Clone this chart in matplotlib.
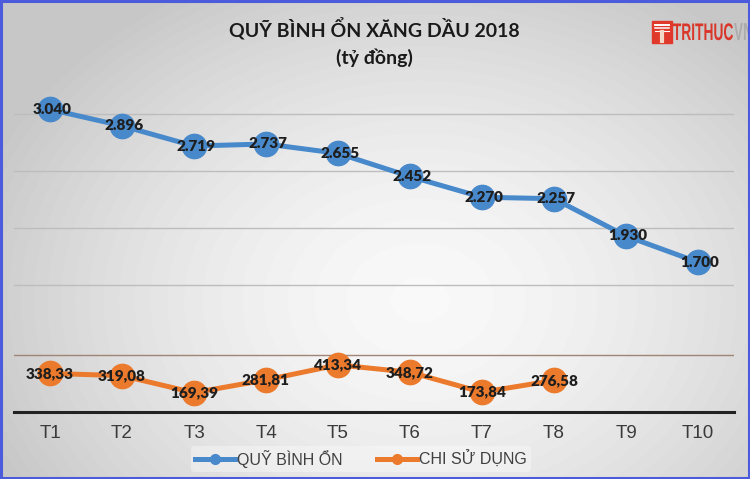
import numpy as np
import matplotlib
matplotlib.use("Agg")
import matplotlib.pyplot as plt
from matplotlib.lines import Line2D
from matplotlib.patches import Rectangle, PathPatch
from matplotlib.textpath import TextPath
from matplotlib.font_manager import FontProperties
from matplotlib.transforms import Affine2D

months = ["T1", "T2", "T3", "T4", "T5", "T6", "T7", "T8", "T9", "T10"]
quy_binh_on = [3040, 2896, 2719, 2737, 2655, 2452, 2270, 2257, 1930, 1700]
chi_su_dung = [338.33, 319.08, 169.39, 281.81, 413.34, 348.72, 173.84, 276.58]

BLUE = "#4889cb"
ORANGE = "#ec7a2c"
W, H = 750, 479

fig = plt.figure(figsize=(W / 100, H / 100), dpi=100)

# background gradient (light centre, grey edges)
bg = fig.add_axes([0, 0, 1, 1], zorder=-10)
yy, xx = np.mgrid[0:H, 0:W]
r = np.sqrt(((xx - 420) / 430.0) ** 2 + ((yy - 300) / 330.0) ** 2)
shade = np.clip(0.975 - 0.17 * r ** 1.6, 0.78, 0.975)
bg.imshow(shade, cmap="gray", vmin=0, vmax=1, aspect="auto", extent=[0, 1, 0, 1])
bg.axis("off")


def px_rect(x0, y_top, x1, y_bot):
    return [x0 / W, 1 - y_bot / H, (x1 - x0) / W, (y_bot - y_top) / H]


ax_top = fig.add_axes(px_rect(14, 80, 734, 310))
ax_bot = fig.add_axes(px_rect(14, 310, 734, 412))
x = np.arange(len(months))

for ax in (ax_top, ax_bot):
    ax.set_facecolor("none")
    ax.set_xlim(-0.5, len(months) - 0.5)
    for s in ax.spines.values():
        s.set_visible(False)
    ax.set_yticks([])
    ax.tick_params(axis="x", length=0)

ax_top.set_ylim(1281, 3298)
ax_top.set_xticks([])
for g in [1500, 2000, 2500, 3000]:
    ax_top.axhline(g, color="#bdbdbd", lw=1, zorder=1)

ax_bot.set_ylim(0, 895)
ax_bot.axhline(500, color="#a08576", lw=1, zorder=1)
ax_bot.spines["bottom"].set_visible(True)
ax_bot.spines["bottom"].set_color("#222222")
ax_bot.spines["bottom"].set_linewidth(2.2)
ax_bot.set_xticks(x)
ax_bot.set_xticklabels(months, fontsize=13.5, color="#3a3a3a",
                       family="Liberation Sans")
ax_bot.tick_params(axis="x", pad=9)

ax_top.plot(x, quy_binh_on, color=BLUE, lw=3.6, marker="o", ms=17.5,
            zorder=3, clip_on=False)
ax_bot.plot(x[:len(chi_su_dung)], chi_su_dung, color=ORANGE, lw=3.6,
            marker="o", ms=17.5, zorder=3, clip_on=False)

lab_font = dict(family="Lato", weight="heavy", fontsize=11, color="#1e1e1e",
                ha="center", va="center", zorder=5)
for xi, v in zip(x, quy_binh_on):
    ax_top.text(xi + 0.03, v, f"{v:,.0f}".replace(",", "."), **lab_font)
for xi, v in zip(x, chi_su_dung):
    ax_bot.text(xi, v, f"{v:.2f}".replace(".", ","), **lab_font)

fig.text(0.499, 1 - 28 / H, "QUỸ BÌNH ỔN XĂNG DẦU 2018", ha="center",
         va="center", family="Lato", weight="bold", fontsize=14,
         color="#1a1a1a")
fig.text(0.499, 1 - 58 / H, "(tỷ đồng)", ha="center", va="center",
         family="Lato", weight="bold", fontsize=14, color="#1a1a1a")

handles = [
    Line2D([], [], color=BLUE, lw=3.6, marker="o", ms=7),
    Line2D([], [], color=ORANGE, lw=3.6, marker="o", ms=7),
]
leg = fig.legend(handles, ["QUỸ BÌNH ỔN", "CHI SỬ DỤNG"], loc="center",
                 bbox_to_anchor=(361 / W, 1 - 459 / H), ncol=2, frameon=True,
                 prop=FontProperties(family="Liberation Sans", size=11.5),
                 handlelength=2.5, handletextpad=0.1, columnspacing=2.2,
                 borderpad=0.25)
leg.get_frame().set_facecolor("white")
leg.get_frame().set_alpha(0.35)
leg.get_frame().set_edgecolor("none")
for t in leg.get_texts():
    t.set_color("#404040")

# logo
fig.patches.append(Rectangle((652 / W, 1 - 43 / H), 20 / W, 22 / H,
                             transform=fig.transFigure, color="#e0382a",
                             zorder=6))
for i, yl in enumerate([25, 28, 31]):
    fig.add_artist(Line2D([(655) / W, 669 / W], [1 - yl / H, 1 - yl / H],
                          transform=fig.transFigure, color="white",
                          lw=1.4 - 0.3 * i, zorder=7))
fig.add_artist(Line2D([662 / W, 662 / W], [1 - 32 / H, 1 - 41 / H],
                      transform=fig.transFigure, color="#f2d6c6", lw=3,
                      zorder=7))


def narrow_text(s, x0, y_base, width, cap, color, alpha=1.0):
    tp = TextPath((0, 0), s, size=10,
                  prop=FontProperties(family="Liberation Sans", weight="bold"))
    ext = tp.get_extents()
    sx = width / ext.width
    sy = cap / ext.height
    tr = Affine2D().translate(-ext.x0, 0).scale(sx, sy).translate(x0, H - y_base)
    p = PathPatch(tr.transform_path(tp), facecolor=color, edgecolor="none",
                  alpha=alpha, transform=None, zorder=7)
    fig.add_artist(p)


narrow_text("TRITHUC", 673, 40, 60, 17, "#d9372a")
narrow_text("VN", 734, 40, 18, 17, "#9a9a9a", alpha=0.6)

# blue frame
fig.patches.append(Rectangle((0.001, 0.002), 0.997, 0.996,
                             transform=fig.transFigure, fill=False,
                             edgecolor="#4b5bdc", lw=2.2, zorder=20))

fig.savefig("out.png", dpi=100)
